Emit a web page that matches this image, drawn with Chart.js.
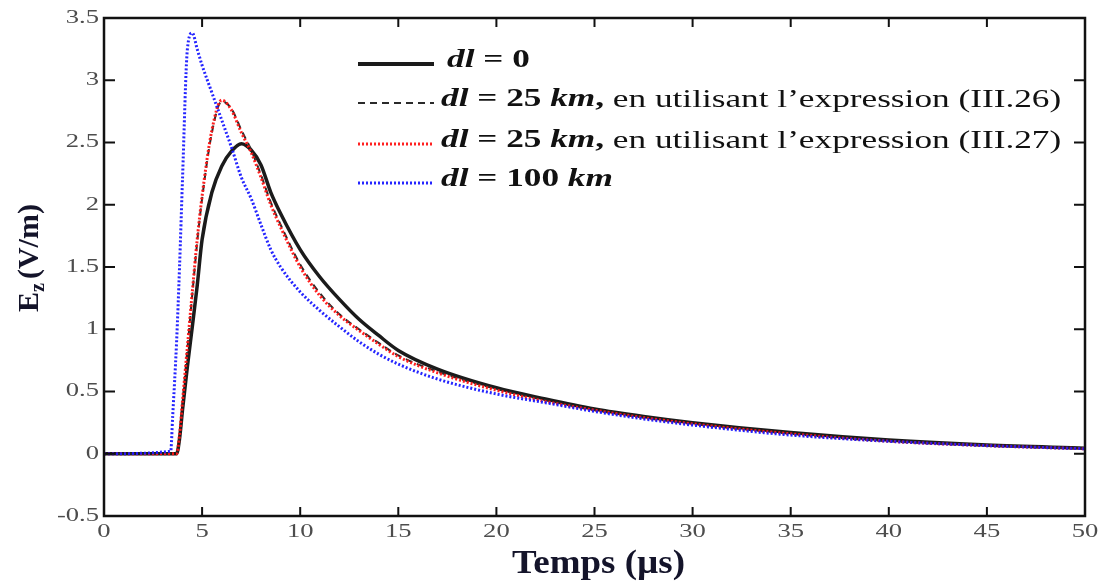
<!DOCTYPE html>
<html>
<head>
<meta charset="utf-8">
<script src="https://cdn.jsdelivr.net/npm/chart.js@4.4.1/dist/chart.umd.min.js"></script>
<style>
  html, body { margin: 0; padding: 0; background: #fff; }
  #wrap { width: 1102px; height: 581px; position: relative; }
</style>
</head>
<body>
<div id="wrap"><canvas id="ezChart"></canvas></div>
<script>
// time axis (µs) shared by all curves
const time = [0, 3.4, 3.5, 3.7, 3.85, 4.0, 4.25, 4.5, 4.75, 5.0, 5.5, 6.0, 6.5, 7.0, 7.5, 8.0, 8.5, 9, 10, 11, 12, 13, 14, 15, 17, 20, 22.5, 25, 27.5, 30, 35, 40, 45, 50];

// Ez (V/m) for each case
const ezDl0 = [0, 0, 0, 0, 0.12, 0.35, 0.7, 1.02, 1.35, 1.72, 2.1, 2.31, 2.43, 2.49, 2.44, 2.32, 2.1, 1.93, 1.64, 1.42, 1.24, 1.08, 0.95, 0.83, 0.68, 0.53, 0.44, 0.36, 0.3, 0.25, 0.17, 0.11, 0.07, 0.045];
const ezDl25Eq26 = [0, 0, 0, 0, 0.14, 0.4, 0.84, 1.28, 1.7, 2.05, 2.58, 2.83, 2.77, 2.6, 2.44, 2.24, 2.02, 1.84, 1.52, 1.29, 1.12, 1.0, 0.89, 0.79, 0.66, 0.52, 0.43, 0.35, 0.29, 0.24, 0.16, 0.1, 0.065, 0.04];
const ezDl25Eq27 = [0, 0, 0, 0, 0.15, 0.42, 0.86, 1.3, 1.72, 2.07, 2.6, 2.84, 2.76, 2.58, 2.42, 2.22, 2.0, 1.82, 1.5, 1.27, 1.11, 0.99, 0.88, 0.78, 0.65, 0.51, 0.42, 0.35, 0.29, 0.24, 0.16, 0.1, 0.065, 0.04];
const ezDl100 = [0, 0.02, 0.3, 0.9, 1.5, 2.2, 3.25, 3.38, 3.25, 3.12, 2.9, 2.68, 2.46, 2.22, 2.05, 1.84, 1.64, 1.5, 1.3, 1.15, 1.02, 0.9, 0.8, 0.72, 0.6, 0.48, 0.41, 0.34, 0.28, 0.23, 0.15, 0.1, 0.065, 0.04];

// axis ticks
const xTicks = [0, 5, 10, 15, 20, 25, 30, 35, 40, 45, 50];
const yTicks = [-0.5, 0, 0.5, 1, 1.5, 2, 2.5, 3, 3.5];

// legend rows: [style, text] pieces; 'm' = math bold italic, 'b' = math bold, 'r' = plain text
const legendRows = [
  [['m', 'dl'], ['b', ' = 0']],
  [['m', 'dl'], ['b', ' = 25 '], ['m', 'km'], ['b', ', '], ['r', 'en utilisant l’expression (III.26)']],
  [['m', 'dl'], ['b', ' = 25 '], ['m', 'km'], ['b', ', '], ['r', 'en utilisant l’expression (III.27)']],
  [['m', 'dl'], ['b', ' = 100 '], ['m', 'km']]
];

const SERIF = '"Liberation Serif", "DejaVu Serif", serif';

function toPoints(ys) {
  return time.map((t, i) => ({ x: t, y: ys[i] }));
}

const lineStyles = [
  { color: '#1b1b1b', width: 3.5, dash: [] },
  { color: '#2a2a2a', width: 2, dash: [7, 5] },
  { color: 'rgba(255, 20, 20, 0.95)', width: 3, dash: [2, 2] },
  { color: 'rgba(25, 25, 255, 0.95)', width: 3, dash: [2, 2] }
];

const seriesData = [ezDl0, ezDl25Eq26, ezDl25Eq27, ezDl100];

// text drawn a little wider than the font's natural width
function wideText(ctx, txt, x, y, sx, align) {
  ctx.save();
  ctx.translate(x, y);
  ctx.scale(sx, 1);
  ctx.textAlign = align;
  ctx.fillText(txt, 0, 0);
  ctx.restore();
  return ctx.measureText(txt).width * sx;
}

// frame, inward ticks, tick labels, axis titles and the legend
const framePlugin = {
  id: 'frame',
  afterDatasetsDraw(chart) {
    const ctx = chart.ctx;
    const a = chart.chartArea;
    const xs = chart.scales.x;
    const ys = chart.scales.y;
    ctx.save();
    ctx.strokeStyle = '#111';
    ctx.lineWidth = 2.5;
    ctx.strokeRect(a.left, a.top, a.right - a.left, a.bottom - a.top);

    ctx.lineWidth = 2;
    ctx.beginPath();
    xTicks.forEach(v => {
      const px = xs.getPixelForValue(v);
      ctx.moveTo(px, a.bottom); ctx.lineTo(px, a.bottom - 9);
      ctx.moveTo(px, a.top); ctx.lineTo(px, a.top + 9);
    });
    yTicks.forEach(v => {
      const py = ys.getPixelForValue(v);
      ctx.moveTo(a.left, py); ctx.lineTo(a.left + 11, py);
      ctx.moveTo(a.right, py); ctx.lineTo(a.right - 11, py);
    });
    ctx.stroke();

    // tick labels
    ctx.fillStyle = '#4d4d4d';
    ctx.font = '19px ' + SERIF;
    ctx.textBaseline = 'middle';
    xTicks.forEach(v => wideText(ctx, String(v), xs.getPixelForValue(v), a.bottom + 16, 1.4, 'center'));
    yTicks.forEach(v => wideText(ctx, String(v), a.left - 5, ys.getPixelForValue(v), 1.4, 'right'));

    // legend
    const rowY = [64, 103, 144, 183];
    const sx0 = 358, sx1 = 434, tx = 441;
    legendRows.forEach((row, i) => {
      const st = lineStyles[i];
      ctx.beginPath();
      ctx.strokeStyle = st.color;
      ctx.lineWidth = i === 0 ? 4 : st.width;
      ctx.setLineDash(st.dash);
      ctx.moveTo(sx0, rowY[i]); ctx.lineTo(sx1, rowY[i]);
      ctx.stroke();
      ctx.setLineDash([]);

      let x = i === 0 ? tx + 6 : tx;
      ctx.fillStyle = '#111';
      ctx.textBaseline = 'middle';
      row.forEach(([kind, txt]) => {
        if (kind === 'm') ctx.font = 'italic bold 25px ' + SERIF;
        else if (kind === 'b') ctx.font = 'bold 25px ' + SERIF;
        else ctx.font = '25px ' + SERIF;
        x += wideText(ctx, txt, x, rowY[i] - 3, 1.41, 'left');
      });
    });

    // x title
    ctx.fillStyle = '#14142a';
    ctx.textBaseline = 'alphabetic';
    ctx.font = 'bold 33px ' + SERIF;
    wideText(ctx, 'Temps (µs)', (a.left + a.right) / 2 + 4, 573, 1.12, 'center');

    // y title, rotated, with subscript z
    ctx.translate(38, 258);
    ctx.rotate(-Math.PI / 2);
    const parts = [['E', 'bold 30px ', 0, 0], ['z', 'bold 20px ', 6, 4], ['(V/m)', 'bold 30px ', 0, 0]];
    let w = 0;
    parts.forEach(p => { ctx.font = p[1] + SERIF; w += ctx.measureText(p[0]).width + p[3]; });
    let x = -w / 2;
    ctx.textAlign = 'left';
    parts.forEach(p => {
      ctx.font = p[1] + SERIF;
      ctx.fillText(p[0], x, p[2]);
      x += ctx.measureText(p[0]).width + p[3];
    });
    ctx.restore();
  }
};

new Chart(document.getElementById('ezChart'), {
  type: 'line',
  data: {
    datasets: seriesData.map((ys, i) => ({
      data: toPoints(ys),
      borderColor: lineStyles[i].color,
      borderWidth: lineStyles[i].width,
      borderDash: lineStyles[i].dash,
      pointRadius: 0,
      fill: false,
      cubicInterpolationMode: 'monotone',
      order: 3 - i
    }))
  },
  options: {
    responsive: true,
    maintainAspectRatio: false,
    animation: false,
    layout: { padding: { left: 0, top: 18, right: 17, bottom: 0 } },
    plugins: { legend: { display: false }, tooltip: { enabled: false } },
    scales: {
      x: {
        type: 'linear',
        min: 0, max: 50,
        afterBuildTicks: s => { s.ticks = xTicks.map(v => ({ value: v })); },
        afterFit: s => { s.height = 65; },
        grid: { display: false },
        border: { display: false },
        ticks: { display: false }
      },
      y: {
        min: -0.5, max: 3.5,
        afterBuildTicks: s => { s.ticks = yTicks.map(v => ({ value: v })); },
        afterFit: s => { s.width = 104; },
        grid: { display: false },
        border: { display: false },
        ticks: { display: false }
      }
    }
  },
  plugins: [framePlugin]
});
</script>
</body>
</html>
